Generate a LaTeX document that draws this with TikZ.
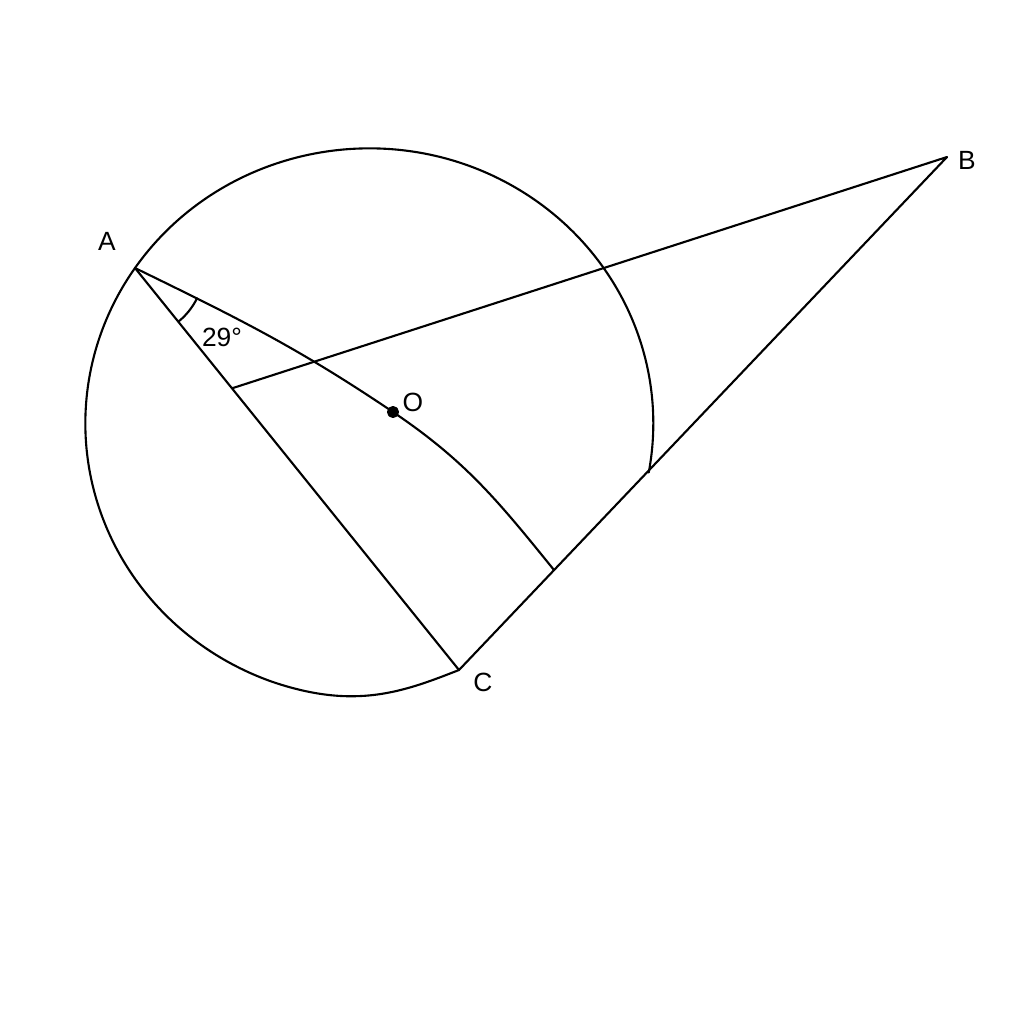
\documentclass[tikz,border=0pt]{standalone}
\usepackage{fontspec}
\setmainfont{Liberation Sans}
\usetikzlibrary{calc}

\begin{document}
\begin{tikzpicture}[line width=0.6pt, line cap=round, line join=round,
		lbl/.style={font=\fontsize{7.5}{9}\selectfont}]
		%%%%% FRAME %%%%%
		\useasboundingbox (0, 0) rectangle (10.24, -10.24);
		
		%%%%% POINTS %%%%%
		\coordinate (A) at (1.35, -2.68);
		\coordinate (B) at (9.47, -1.57);
		\coordinate (C) at (4.59, -6.70);
		\coordinate (O) at (3.93, -4.12);
		\coordinate (D) at (5.54, -5.70);
		\coordinate (E) at (2.33, -3.88);
		
		%%%%% CIRCLE %%%%%
		\draw (A) arc[start angle=145.6, end angle=-10.3, x radius=2.84, y radius=2.75];
		\draw (A) arc[start angle=145.6, end angle=250, x radius=2.84, y radius=2.75]
			.. controls (3.55, -7.10) and (4.03, -6.92) .. (C);
		
		%%%%% LINES %%%%%
		\draw (A) -- (C) -- (B) -- (E);
		\draw (A) to[out=-26, in=146] (O) to[out=-34, in=129] (D);
		\draw[fill=black] (O) circle (0.05);
		
		%%%%% ANGLE %%%%%
		\draw ($(A)+(-51.1:0.69)$) arc (-51.1:-26:0.69);
		\node[lbl] (ang) at (2.22, -3.37) {29°};
		
		%%%%% LABELS %%%%%
		\node[lbl] (la) at (1.07, -2.41) {A};
		\node[lbl] (lb) at (9.67, -1.60) {B};
		\node[lbl] (lc) at (4.83, -6.82) {C};
		\node[lbl] (lo) at (4.13, -4.02) {O};
	\end{tikzpicture}
\end{document}
